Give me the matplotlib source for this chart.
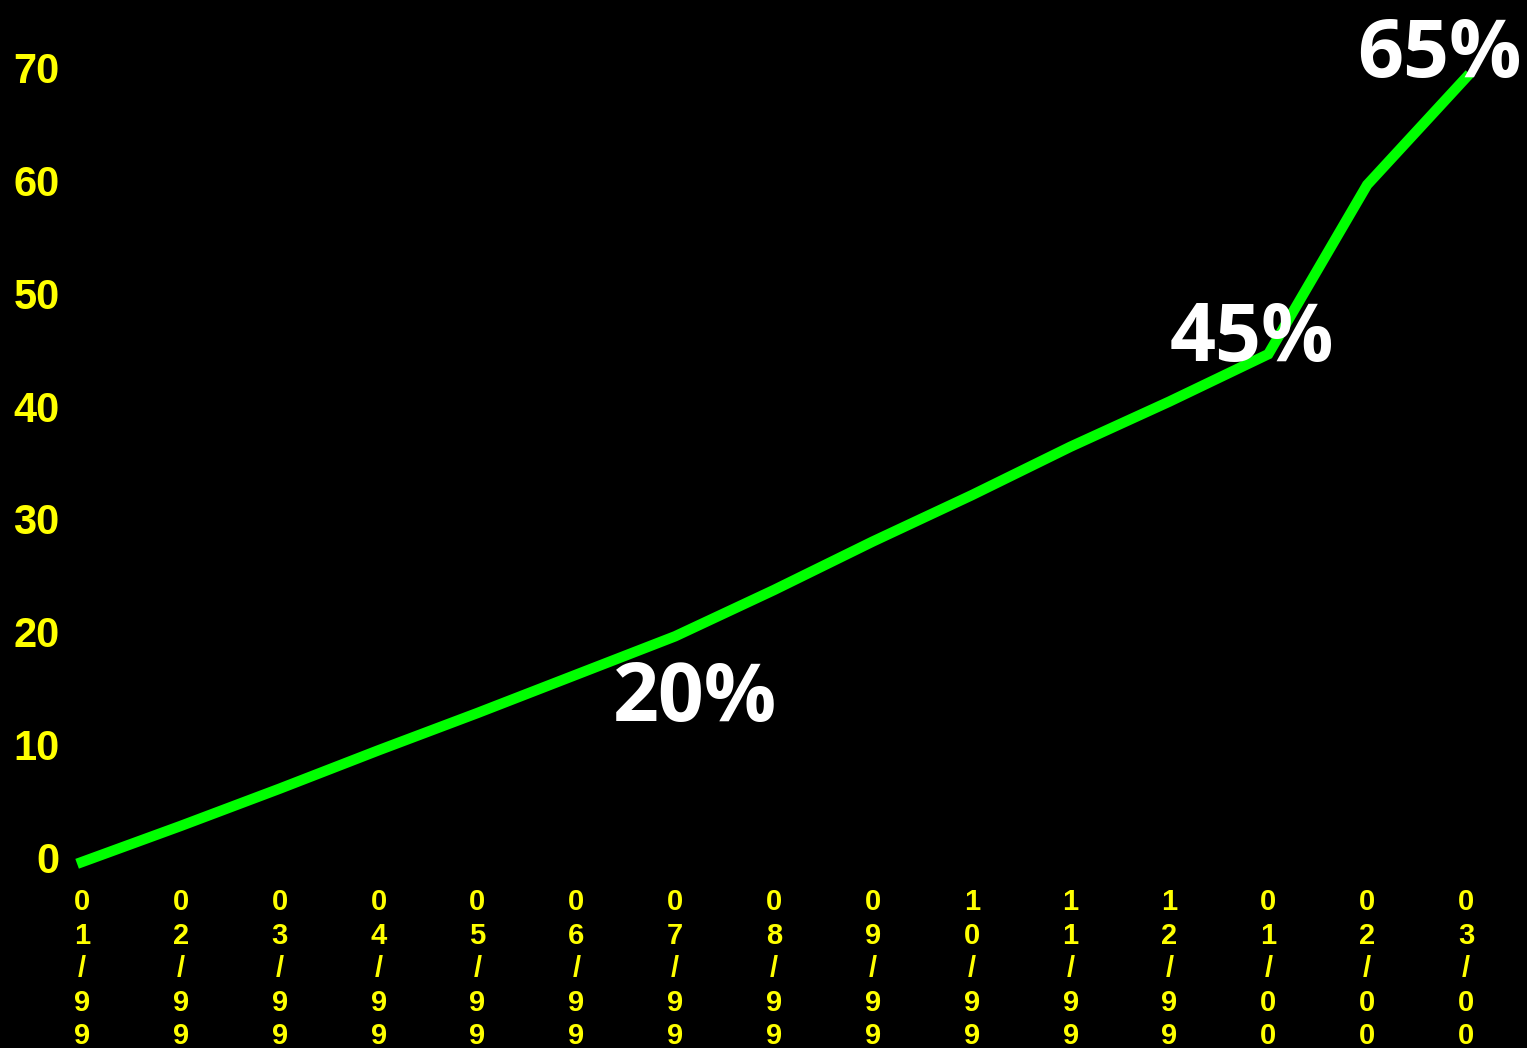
import matplotlib
matplotlib.use('Agg')
import matplotlib.pyplot as plt

# monthly values, 01/99 .. 03/00
months = ['01/99', '02/99', '03/99', '04/99', '05/99', '06/99', '07/99', '08/99',
          '09/99', '10/99', '11/99', '12/99', '01/00', '02/00', '03/00']
values = [0, 3.2, 6.5, 9.9, 13.2, 16.6, 20, 24.1, 28.4, 32.5, 36.8, 40.8, 45, 60, 69.5]
yticks = [0, 10, 20, 30, 40, 50, 60, 70]

# callouts: text, x index, y value
notes = ['20%', '45%', '65%']
note_x = [5.37, 11.0, 12.9]
note_y = [12.5, 44.4, 69.6]

fig = plt.figure(figsize=(15.27, 10.48), dpi=100)
fig.patch.set_facecolor('black')
ax = fig.add_axes([82/1527, 186/1048, 1384/1527, 790/1048])
ax.set_facecolor('black')

x = list(range(len(months)))
ax.plot(x, values, color='#00FF00', lw=7.5, clip_on=False, solid_joinstyle='miter')

ax.set_xlim(0, 14)
ax.set_ylim(0, 70)
ax.set_yticks(yticks)
ax.set_yticklabels([str(v) for v in yticks])
ax.set_xticks(x)
ax.set_xticklabels(['\n'.join(m) for m in months], linespacing=1.25)

for lab in ax.get_yticklabels():
    lab.set_fontfamily('Liberation Sans')
    lab.set_fontweight('bold')
    lab.set_fontsize(30)
    lab.set_color('yellow')
    lab.set_verticalalignment('center')
for lab in ax.get_xticklabels():
    lab.set_fontfamily('Liberation Sans')
    lab.set_fontweight('bold')
    lab.set_fontsize(21)
    lab.set_color('yellow')

ax.tick_params(axis='y', length=0, pad=16)
ax.tick_params(axis='x', length=0, pad=19)
for spine in ('top', 'right', 'bottom', 'left'):
    ax.spines[spine].set_visible(False)

for t, nx, ny in zip(notes, note_x, note_y):
    ax.text(nx, ny, t, color='white', fontsize=58, fontweight='bold',
            family='Open Sans', ha='left', va='baseline', zorder=5, clip_on=False)

fig.savefig('out.png', dpi=100, facecolor='black')
